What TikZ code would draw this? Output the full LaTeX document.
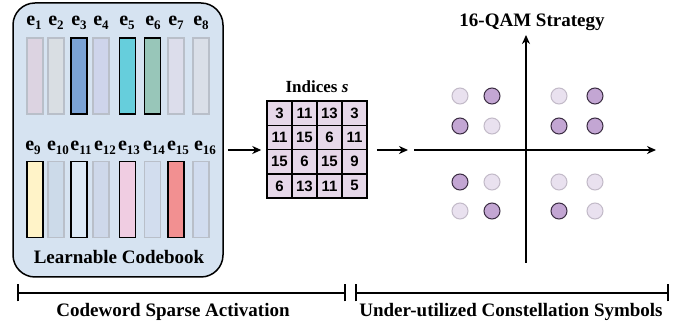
\documentclass[tikz,border=0pt]{standalone}
\usepackage[no-math]{fontspec}
\setmainfont{Liberation Serif}
\newfontfamily\numfont{Liberation Sans}
\usetikzlibrary{arrows.meta}
\newcommand\ebf[1]{{\bfseries e\raisebox{-3.8pt}{\fontsize{13}{13}\selectfont #1}}}
\definecolor{cbfill}{HTML}{D6E3F1}
\definecolor{fadeline}{HTML}{B9BFC9}
\definecolor{gridfill}{HTML}{E6D8E9}
\definecolor{dotdark}{HTML}{C3A6D3}
\definecolor{dotdarkline}{HTML}{3A2C42}
\definecolor{dotlight}{HTML}{E9E1EF}
\definecolor{dotlightline}{HTML}{C2BAC8}
\definecolor{cA}{HTML}{DCD3E1}
\definecolor{cB}{HTML}{D9DEE3}
\definecolor{cC}{HTML}{7BA3D6}
\definecolor{cD}{HTML}{CED4EB}
\definecolor{cE}{HTML}{66CEDC}
\definecolor{cF}{HTML}{98C6B9}
\definecolor{cG}{HTML}{DCDDEB}
\definecolor{cH}{HTML}{DADFE8}
\definecolor{cI}{HTML}{FFF3C8}
\definecolor{cJ}{HTML}{CCDAE9}
\definecolor{cK}{HTML}{DCE9F6}
\definecolor{cL}{HTML}{CED8EA}
\definecolor{cM}{HTML}{F0CDE2}
\definecolor{cN}{HTML}{D2DDEE}
\definecolor{cO}{HTML}{F29091}
\definecolor{cP}{HTML}{D1DCEF}
\begin{document}
\begin{tikzpicture}[x=1pt,y=-1pt,
  cbox/.style={draw=black, line width=1.5pt, fill=cbfill, rounded corners=22pt, inner sep=0pt},
  barbox/.style={minimum width=16pt, minimum height=76pt, inner sep=0pt, line width=1.3pt},
  baron/.style={barbox, draw=black},
  baroff/.style={barbox, draw=fadeline},
  elab/.style={inner sep=0pt, font=\fontsize{20}{22}\selectfont},
  cell/.style={draw=black, line width=1.5pt, fill=gridfill, minimum width=25pt, minimum height=24.25pt, inner sep=0pt, font=\numfont\bfseries\fontsize{15}{16}\selectfont},
  title/.style={anchor=base, inner sep=0pt, font=\bfseries\fontsize{19}{22}\selectfont},
  arr/.style={line width=1.5pt, -{Stealth[length=9pt,width=8pt]}},
  dotdk/.style={circle, minimum size=16pt, inner sep=0pt, fill=dotdark, draw=dotdarkline, line width=1pt},
  dotlt/.style={circle, minimum size=16pt, inner sep=0pt, fill=dotlight, draw=dotlightline, line width=1pt},
  brk/.style={line width=2pt}
]
\useasboundingbox (0,0) rectangle (681,328);

% codebook
\node[cbox, minimum width=210pt, minimum height=274pt] (cb) at (118,140) {};

% top bars
\node[baroff, fill=cA] (t1) at (35,76) {};
\node[baroff, fill=cB] (t2) at (56,76) {};
\node[baron,  fill=cC] (t3) at (79,76) {};
\node[baroff, fill=cD] (t4) at (101,76) {};
\node[baron,  fill=cE] (t5) at (127.5,76) {};
\node[baron,  fill=cF] (t6) at (152.5,76) {};
\node[baroff, fill=cG] (t7) at (176,76) {};
\node[baroff, fill=cH] (t8) at (201,76) {};
\node[elab] (lt1) at (34,23) {\ebf{1}};
\node[elab] (lt2) at (56,23) {\ebf{2}};
\node[elab] (lt3) at (79,23) {\ebf{3}};
\node[elab] (lt4) at (101,23) {\ebf{4}};
\node[elab] (lt5) at (127,23) {\ebf{5}};
\node[elab] (lt6) at (153,23) {\ebf{6}};
\node[elab] (lt7) at (176,23) {\ebf{7}};
\node[elab] (lt8) at (201,23) {\ebf{8}};

% bottom bars
\node[baron,  fill=cI] (b9)  at (35,199.5) {};
\node[baroff, fill=cJ] (b10) at (56,199.5) {};
\node[baron,  fill=cK] (b11) at (79,199.5) {};
\node[baroff, fill=cL] (b12) at (101,199.5) {};
\node[baron,  fill=cM] (b13) at (127.5,199.5) {};
\node[baroff, fill=cN] (b14) at (152.5,199.5) {};
\node[baron,  fill=cO] (b15) at (176,199.5) {};
\node[baroff, fill=cP] (b16) at (201,199.5) {};
\node[elab] (lb9)  at (33,148) {\ebf{9}};
\node[elab] (lb10) at (58,148) {\ebf{10}};
\node[elab] (lb11) at (81,148) {\ebf{11}};
\node[elab] (lb12) at (105,148) {\ebf{12}};
\node[elab] (lb13) at (129,148) {\ebf{13}};
\node[elab] (lb14) at (154,148) {\ebf{14}};
\node[elab] (lb15) at (178,148) {\ebf{15}};
\node[elab] (lb16) at (205,148) {\ebf{16}};
\node[title] (cbl) at (119,264) {Learnable Codebook};

% indices grid
\node[title, font=\bfseries\fontsize{17}{20}\selectfont] (ind) at (317,93) {Indices \textit{s}};
\node[cell] (g11) at (279.5,113.15) {3};
\node[cell] (g12) at (304.5,113.15) {11};
\node[cell] (g13) at (329.5,113.15) {13};
\node[cell] (g14) at (354.5,113.15) {3};
\node[cell] (g21) at (279.5,137.4) {11};
\node[cell] (g22) at (304.5,137.4) {15};
\node[cell] (g23) at (329.5,137.4) {6};
\node[cell] (g24) at (354.5,137.4) {11};
\node[cell] (g31) at (279.5,161.65) {15};
\node[cell] (g32) at (304.5,161.65) {6};
\node[cell] (g33) at (329.5,161.65) {15};
\node[cell] (g34) at (354.5,161.65) {9};
\node[cell] (g41) at (279.5,185.9) {6};
\node[cell] (g42) at (304.5,185.9) {13};
\node[cell] (g43) at (329.5,185.9) {11};
\node[cell] (g44) at (354.5,185.9) {5};
\coordinate (gridW) at (g21.west |- 0,150);
\coordinate (gridE) at (g24.east |- 0,150);

\draw[arr, shorten <=4pt, shorten >=5pt] (cb.east |- gridW) -- (gridW);

% constellation
\coordinate (hstart) at (414,150);
\coordinate (hend) at (656,150);
\coordinate (vbot) at (526,263);
\coordinate (vtop) at (526,35);
\coordinate (arrend) at (408,150);
\draw[arr, shorten <=9pt] (gridE) -- (arrend);
\draw[arr] (hstart) -- (hend);
\draw[arr] (vbot) -- (vtop);
\node[title] (qam) at (532,27) {16-QAM Strategy};

\node[dotlt] (da1) at (460,96) {};
\node[dotdk] (da2) at (492,96) {};
\node[dotlt] (da3) at (559,96) {};
\node[dotdk] (da4) at (595,96) {};
\node[dotdk] (db1) at (460,126) {};
\node[dotlt] (db2) at (492,126) {};
\node[dotdk] (db3) at (559,126) {};
\node[dotdk] (db4) at (595,126) {};
\node[dotdk] (dc1) at (460,182) {};
\node[dotlt] (dc2) at (492,182) {};
\node[dotlt] (dc3) at (559,182) {};
\node[dotlt] (dc4) at (595,182) {};
\node[dotlt] (dd1) at (460,211) {};
\node[dotdk] (dd2) at (492,211) {};
\node[dotdk] (dd3) at (559,211) {};
\node[dotlt] (dd4) at (595,211) {};

% bottom brackets
\coordinate (l1) at (18,293);
\coordinate (l2) at (345,293);
\coordinate (r1) at (356,293);
\coordinate (r2) at (668,293);
\draw[brk] (l1) -- (l2);
\draw[brk] ([yshift=-8.5pt]l1) -- ([yshift=8.5pt]l1);
\draw[brk] ([yshift=-8.5pt]l2) -- ([yshift=8.5pt]l2);
\draw[brk] (r1) -- (r2);
\draw[brk] ([yshift=-8.5pt]r1) -- ([yshift=8.5pt]r1);
\draw[brk] ([yshift=-8.5pt]r2) -- ([yshift=8.5pt]r2);
\node[title] (lcap) at (173,317) {Codeword Sparse Activation};
\node[title] (rcap) at (511,317) {Under-utilized Constellation Symbols};
\end{tikzpicture}
\end{document}
